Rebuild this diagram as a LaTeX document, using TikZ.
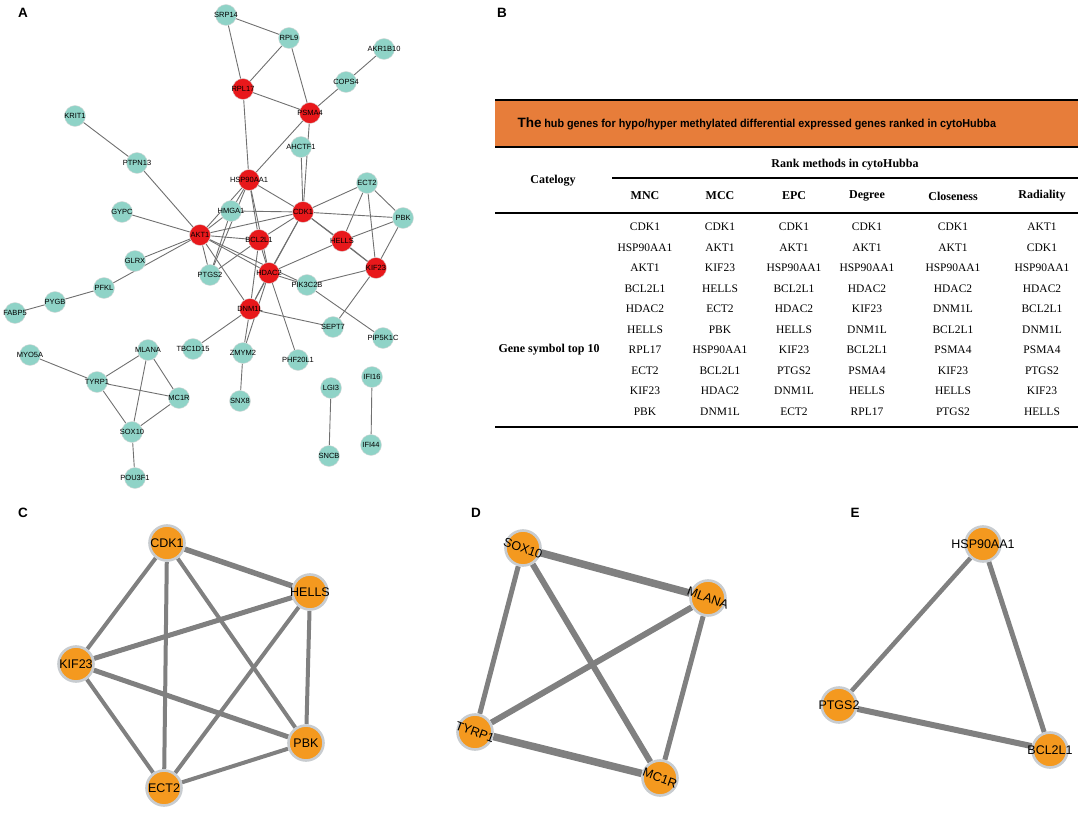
\documentclass[tikz,border=0pt]{standalone}
\usepackage{fontspec}
\setmainfont{Liberation Serif}
\setsansfont{Liberation Sans}
\usetikzlibrary{backgrounds}

\definecolor{hubred}{RGB}{232,24,27}
\definecolor{genecyan}{RGB}{143,211,199}
\definecolor{modorange}{RGB}{244,153,31}
\definecolor{bandorange}{RGB}{231,125,58}
\definecolor{edgegray}{RGB}{112,112,112}
\definecolor{modgray}{RGB}{128,128,128}
\definecolor{ringgray}{RGB}{200,204,208}

\newcommand{\gsize}[1]{\fontsize{#1}{#1}\selectfont}

\begin{document}
\begin{tikzpicture}[x=1pt,y=-1pt,
    gene/.style={circle,fill=genecyan,draw=black!15,line width=0.4pt,minimum size=21pt,inner sep=0pt},
    hub/.style={gene,fill=hubred},
    link/.style={draw=edgegray,line width=0.9pt},
    modnode/.style={circle,fill=modorange,draw=ringgray,line width=2.6pt,minimum size=35pt,inner sep=0pt},
    modlink/.style={draw=modgray,line width=#1},
    panel/.style={font=\sffamily\bfseries\gsize{13.5}},
    cell/.style={font=\gsize{11.5}},
    head/.style={font=\bfseries\gsize{12}},
    rule/.style={line width=#1}]
  \useasboundingbox (0,0) rectangle (1084,813);

  % panel letters
  \node[panel] (labA) at (23,13) {A};
  \node[panel] (labB) at (502,13) {B};
  \node[panel] (labC) at (23,513) {C};
  \node[panel] (labD) at (476,513) {D};
  \node[panel] (labE) at (855,513) {E};

  % A: PPI network
  \begin{scope}[every label/.style={font=\sffamily\gsize{7.5},inner sep=0pt}]
    \node[gene,label=center:SRP14] (srp14) at (226,15) {};
    \node[gene,label=center:RPL9] (rpl9) at (289,38) {};
    \node[gene,label=center:AKR1B10] (akr1b10) at (384,49) {};
    \node[gene,label=center:COPS4] (cops4) at (346,82) {};
    \node[hub,label=center:RPL17] (rpl17) at (243,89) {};
    \node[hub,label=center:PSMA4] (psma4) at (310,113) {};
    \node[gene,label=center:KRIT1] (krit1) at (75,116) {};
    \node[gene,label=center:AHCTF1] (ahctf1) at (301,147) {};
    \node[gene,label=center:PTPN13] (ptpn13) at (137,163) {};
    \node[hub,label=center:HSP90AA1] (hsp) at (249,180) {};
    \node[gene,label=center:ECT2] (ect2) at (367,183) {};
    \node[gene,label=center:GYPC] (gypc) at (122,212) {};
    \node[gene,label=center:HMGA1] (hmga1) at (231,211) {};
    \node[hub,label=center:CDK1] (cdk1) at (303,212) {};
    \node[gene,label=center:PBK] (pbk) at (403,218) {};
    \node[hub,label=center:AKT1] (akt1) at (200,235) {};
    \node[hub,label=center:BCL2L1] (bcl) at (259,240) {};
    \node[hub,label=center:HELLS] (hells) at (342,241) {};
    \node[gene,label=center:GLRX] (glrx) at (135,261) {};
    \node[hub,label=center:KIF23] (kif23) at (376,268) {};
    \node[hub,label=center:HDAC2] (hdac2) at (269,273) {};
    \node[gene,label=center:PTGS2] (ptgs2) at (210,275) {};
    \node[gene,label=center:PIK3C2B] (pik3c2b) at (307,285) {};
    \node[gene,label=center:PFKL] (pfkl) at (104,288) {};
    \node[gene,label=center:PYGB] (pygb) at (55,302) {};
    \node[gene,label=center:FABP5] (fabp5) at (15,313) {};
    \node[hub,label=center:DNM1L] (dnm1l) at (250,309) {};
    \node[gene,label=center:SEPT7] (sept7) at (333,327) {};
    \node[gene,label=center:PIP5K1C] (pip5k1c) at (383,338) {};
    \node[gene,label=center:MYO5A] (myo5a) at (30,355) {};
    \node[gene,label=center:MLANA] (mlana) at (148,350) {};
    \node[gene,label=center:TBC1D15] (tbc1d15) at (193,349) {};
    \node[gene,label=center:ZMYM2] (zmym2) at (243,353) {};
    \node[gene,label=center:PHF20L1] (phf20l1) at (298,360) {};
    \node[gene,label=center:TYRP1] (tyrp1) at (97,382) {};
    \node[gene,label=center:MC1R] (mc1r) at (179,398) {};
    \node[gene,label=center:SNX8] (snx8) at (240,401) {};
    \node[gene,label=center:LGI3] (lgi3) at (331,388) {};
    \node[gene,label=center:IFI16] (ifi16) at (372,377) {};
    \node[gene,label=center:SOX10] (sox10) at (132,432) {};
    \node[gene,label=center:IFI44] (ifi44) at (371,445) {};
    \node[gene,label=center:SNCB] (sncb) at (329,456) {};
    \node[gene,label=center:POU3F1] (pou3f1) at (135,478) {};
  \end{scope}

  \begin{pgfonlayer}{background}
    \draw[link] (srp14) -- (rpl9);
    \draw[link] (srp14) -- (rpl17);
    \draw[link] (rpl9) -- (rpl17);
    \draw[link] (rpl9) -- (psma4);
    \draw[link] (rpl17) -- (psma4);
    \draw[link] (cops4) -- (akr1b10);
    \draw[link] (cops4) -- (psma4);
    \draw[link] (rpl17) -- (hsp);
    \draw[link] (psma4) -- (hsp);
    \draw[link] (psma4) -- (cdk1);
    \draw[link] (ahctf1) -- (cdk1);
    \draw[link] (krit1) -- (ptpn13);
    \draw[link] (ptpn13) -- (akt1);
    \draw[link] (gypc) -- (akt1);
    \draw[link] (hsp) -- (cdk1);
    \draw[link] (hsp) -- (akt1);
    \draw[link] (hsp) -- (hmga1);
    \draw[link] (hsp) -- (bcl);
    \draw[link] (hsp) -- (hdac2);
    \draw[link] (hsp) -- (ptgs2);
    \draw[link] (hmga1) -- (cdk1);
    \draw[link] (hmga1) -- (ptgs2);
    \draw[link] (akt1) -- (hmga1);
    \draw[link] (akt1) -- (cdk1);
    \draw[link] (akt1) -- (bcl);
    \draw[link] (akt1) -- (hdac2);
    \draw[link] (akt1) -- (pik3c2b);
    \draw[link] (akt1) -- (ptgs2);
    \draw[link] (akt1) -- (dnm1l);
    \draw[link] (akt1) -- (glrx);
    \draw[link] (akt1) -- (pfkl);
    \draw[link] (cdk1) -- (ect2);
    \draw[link] (cdk1) -- (pbk);
    \draw[link] (cdk1) -- (hells);
    \draw[link] (cdk1) -- (kif23);
    \draw[link] (cdk1) -- (bcl);
    \draw[link] (cdk1) -- (hdac2);
    \draw[link] (cdk1) -- (dnm1l);
    \draw[link] (ect2) -- (hells);
    \draw[link] (ect2) -- (kif23);
    \draw[link] (ect2) -- (pbk);
    \draw[link] (pbk) -- (hells);
    \draw[link] (pbk) -- (kif23);
    \draw[link] (hells) -- (kif23);
    \draw[link] (hells) -- (hdac2);
    \draw[link] (kif23) -- (pik3c2b);
    \draw[link] (kif23) -- (sept7);
    \draw[link] (hdac2) -- (bcl);
    \draw[link] (hdac2) -- (dnm1l);
    \draw[link] (hdac2) -- (pik3c2b);
    \draw[link] (hdac2) -- (phf20l1);
    \draw[link] (hdac2) -- (zmym2);
    \draw[link] (bcl) -- (ptgs2);
    \draw[link] (bcl) -- (dnm1l);
    \draw[link] (dnm1l) -- (tbc1d15);
    \draw[link] (dnm1l) -- (zmym2);
    \draw[link] (dnm1l) -- (sept7);
    \draw[link] (zmym2) -- (snx8);
    \draw[link] (pik3c2b) -- (pip5k1c);
    \draw[link] (pfkl) -- (pygb);
    \draw[link] (pygb) -- (fabp5);
    \draw[link] (lgi3) -- (sncb);
    \draw[link] (ifi16) -- (ifi44);
    \draw[link] (myo5a) -- (tyrp1);
    \draw[link] (tyrp1) -- (mlana);
    \draw[link] (tyrp1) -- (mc1r);
    \draw[link] (tyrp1) -- (sox10);
    \draw[link] (mlana) -- (mc1r);
    \draw[link] (mlana) -- (sox10);
    \draw[link] (mc1r) -- (sox10);
    \draw[link] (sox10) -- (pou3f1);
  \end{pgfonlayer}

  % B: hub gene table
  \fill[bandorange] (495,100) rectangle (1078,147);
  \draw[rule=2.6pt] (495,100) -- (1078,100);
  \draw[rule=2.6pt] (495,147) -- (1078,147);
  \node[anchor=west,font=\sffamily\bfseries] (title) at (514,124)
    {{\gsize{13.5}The} \gsize{11.5}\scalebox{0.94}[1]{hub genes for hypo/hyper methylated differential expressed genes ranked in cytoHubba}};
  \node[head] (rank) at (845,165) {Rank methods in cytoHubba};
  \draw[rule=1.6pt] (612,178) -- (1078,178);
  \node[head] (catelogy) at (553,181) {Catelogy};
  \node[head] (hMNC) at (645,196) {MNC};
  \node[head] (hMCC) at (720,196) {MCC};
  \node[head] (hEPC) at (794,196) {EPC};
  \node[head] (hDeg) at (867,196) {Degree};
  \node[head] (hClo) at (953,196) {Closeness};
  \node[head] (hRad) at (1042,196) {Radiality};
  \draw[rule=2.6pt] (495,213) -- (1078,213);
  \foreach \r/\a/\b/\c/\d/\e/\f in {
      1/CDK1/CDK1/CDK1/CDK1/CDK1/AKT1,
      2/HSP90AA1/AKT1/AKT1/AKT1/AKT1/CDK1,
      3/AKT1/KIF23/HSP90AA1/HSP90AA1/HSP90AA1/HSP90AA1,
      4/BCL2L1/HELLS/BCL2L1/HDAC2/HDAC2/HDAC2,
      5/HDAC2/ECT2/HDAC2/KIF23/DNM1L/BCL2L1,
      6/HELLS/PBK/HELLS/DNM1L/BCL2L1/DNM1L,
      7/RPL17/HSP90AA1/KIF23/BCL2L1/PSMA4/PSMA4,
      8/ECT2/BCL2L1/PTGS2/PSMA4/KIF23/PTGS2,
      9/KIF23/HDAC2/DNM1L/HELLS/HELLS/KIF23,
      10/PBK/DNM1L/ECT2/RPL17/PTGS2/HELLS} {
    \node[cell] (mnc\r) at (645,{227+20.5*(\r-1)}) {\a};
    \node[cell] (mcc\r) at (720,{227+20.5*(\r-1)}) {\b};
    \node[cell] (epc\r) at (794,{227+20.5*(\r-1)}) {\c};
    \node[cell] (deg\r) at (867,{227+20.5*(\r-1)}) {\d};
    \node[cell] (clo\r) at (953,{227+20.5*(\r-1)}) {\e};
    \node[cell] (rad\r) at (1042,{227+20.5*(\r-1)}) {\f};
  }
  \node[head] (topten) at (549,350) {Gene symbol top 10};
  \draw[rule=2.6pt] (495,427) -- (1078,427);

  % C, D, E: modules
  \begin{scope}[every label/.style={font=\sffamily\gsize{12.5},inner sep=0pt}]
    \node[modnode,label=center:CDK1] (mcdk1) at (167,543) {};
    \node[modnode,label=center:HELLS] (mhells) at (310,592) {};
    \node[modnode,label=center:KIF23] (mkif23) at (76,664) {};
    \node[modnode,label=center:PBK] (mpbk) at (306,743) {};
    \node[modnode,label=center:ECT2] (mect2) at (164,788) {};

    \node[modnode,label={[rotate=-20]center:SOX10}] (msox10) at (523,548) {};
    \node[modnode,label={[rotate=-20]center:MLANA}] (mmlana) at (708,598) {};
    \node[modnode,label={[rotate=-20]center:TYRP1}] (mtyrp1) at (475,732) {};
    \node[modnode,label={[rotate=-20]center:MC1R}] (mmc1r) at (660,778) {};

    \node[modnode,label=center:HSP90AA1] (mhsp) at (983,544) {};
    \node[modnode,label=center:PTGS2] (mptgs2) at (839,705) {};
    \node[modnode,label=center:BCL2L1] (mbcl) at (1050,750) {};
  \end{scope}

  \begin{pgfonlayer}{background}
    \draw[modlink=5.5pt] (mcdk1) -- (mhells);
    \draw[modlink=4pt] (mcdk1) -- (mkif23);
    \draw[modlink=4pt] (mcdk1) -- (mect2);
    \draw[modlink=4pt] (mcdk1) -- (mpbk);
    \draw[modlink=5pt] (mkif23) -- (mhells);
    \draw[modlink=4pt] (mhells) -- (mect2);
    \draw[modlink=4pt] (mhells) -- (mpbk);
    \draw[modlink=5pt] (mkif23) -- (mpbk);
    \draw[modlink=4pt] (mkif23) -- (mect2);
    \draw[modlink=4pt] (mect2) -- (mpbk);

    \draw[modlink=7.5pt] (msox10) -- (mmlana);
    \draw[modlink=5pt] (msox10) -- (mtyrp1);
    \draw[modlink=6pt] (msox10) -- (mmc1r);
    \draw[modlink=6pt] (mtyrp1) -- (mmlana);
    \draw[modlink=5pt] (mmlana) -- (mmc1r);
    \draw[modlink=7.5pt] (mtyrp1) -- (mmc1r);

    \draw[modlink=4.5pt] (mhsp) -- (mptgs2);
    \draw[modlink=5pt] (mhsp) -- (mbcl);
    \draw[modlink=6pt] (mptgs2) -- (mbcl);
  \end{pgfonlayer}
\end{tikzpicture}
\end{document}
